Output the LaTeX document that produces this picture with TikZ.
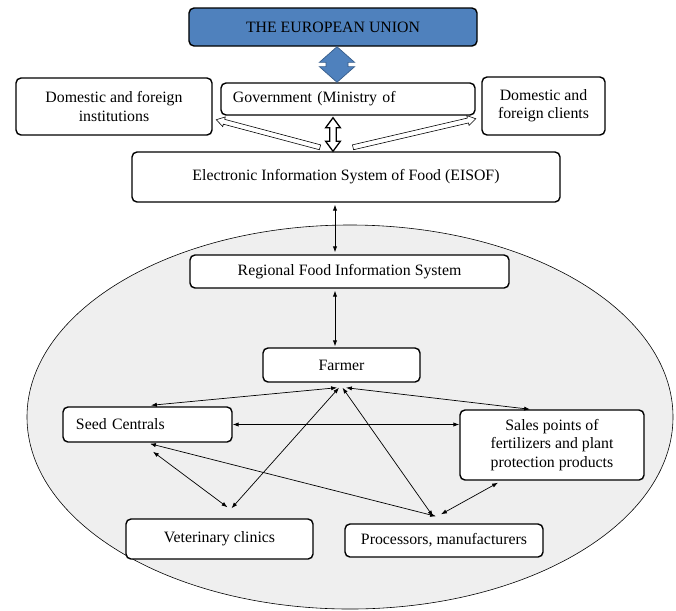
\documentclass[tikz,border=0pt]{standalone}
\usepackage{fontspec}
\setmainfont{Liberation Serif}
\usepackage{xcolor}
\usepackage{tikz}
\usetikzlibrary{positioning}
\usetikzlibrary{arrows.meta,calc}

\definecolor{eublue}{RGB}{79,129,189}
\definecolor{eudark}{RGB}{56,93,138}
\definecolor{zonegray}{RGB}{239,239,239}

\tikzset{
	box/.style={draw, rounded corners=0.15cm, line width=1.2pt, fill=white, align=center, inner sep=1pt, font=\fontsize{13.5}{15.5}\selectfont},
	link/.style={<->, line width=0.6pt},
	hollow/.style={draw, fill=white, line width=0.5pt},
}

% style, from, to, shaft half, head half, head length
\newcommand{\singlearrow}[6]{%
	\coordinate (sa1) at (#2);
	\coordinate (sa2) at (#3);
	\coordinate (sah) at ($(sa2)!#6!(sa1)$);
	\draw[#1] ($(sa1)!#4!90:(sa2)$) -- ($(sah)!#4!90:(sa2)$) -- ($(sah)!#5!90:(sa2)$) -- (sa2)
		-- ($(sah)!#5!-90:(sa2)$) -- ($(sah)!#4!-90:(sa2)$) -- ($(sa1)!#4!-90:(sa2)$) -- cycle;
}
\newcommand{\doublearrow}[6]{%
	\coordinate (da1) at (#2);
	\coordinate (da2) at (#3);
	\coordinate (dh1) at ($(da1)!#6!(da2)$);
	\coordinate (dh2) at ($(da2)!#6!(da1)$);
	\draw[#1] (da1) -- ($(dh1)!#5!-90:(da2)$) -- ($(dh1)!#4!-90:(da2)$) -- ($(dh2)!#4!90:(da1)$)
		-- ($(dh2)!#5!90:(da1)$) -- (da2) -- ($(dh2)!#5!-90:(da1)$) -- ($(dh2)!#4!-90:(da1)$)
		-- ($(dh1)!#4!90:(da2)$) -- ($(dh1)!#5!90:(da2)$) -- cycle;
}

\begin{document}
\begin{tikzpicture}[x=0.03cm, y=-0.03cm, >={Latex[length=5pt,width=3.6pt]}]
			\useasboundingbox (0,0) rectangle (676,610);
			
			\draw[fill=zonegray, line width=0.5pt] (350,417) ellipse [x radius=9.69cm, y radius=5.76cm];
			
			\node[box, fill=eublue, minimum width=8.64cm, minimum height=1.14cm] (eu) at (333,27) {THE EUROPEAN UNION};
			\node[box, minimum width=7.62cm, minimum height=0.96cm, inner xsep=0.36cm, text width=6.9cm, align=left] (gov) at (348,99) {Government (Ministry of};
			\node[box, minimum width=5.88cm, minimum height=1.71cm] (inst) at (114,106.5) {Domestic and foreign\\institutions};
			\node[box, minimum width=3.69cm, minimum height=1.74cm] (clients) at (543.5,106) {Domestic and\\foreign clients};
			\node[box, minimum width=12.84cm, minimum height=1.5cm] (eisof) at (346,177) {Electronic Information System of Food (EISOF)};
			
			\node[box, minimum width=9.57cm, minimum height=0.99cm] (regional) at (349.5,271.5) {Regional Food Information System};
			\node[box, minimum width=4.71cm, minimum height=1.02cm] (farmer) at (341.5,365) {Farmer};
			\node[box, minimum width=5.07cm, minimum height=1.05cm, inner xsep=0.39cm, text width=4.29cm, align=left] (seed) at (147.5,424.5) {Seed Centrals};
			\node[box, minimum width=5.52cm, minimum height=2.1cm] (sales) at (552,445) {Sales points of\\fertilizers and plant\\protection products};
			\node[box, minimum width=5.61cm, minimum height=1.2cm] (vet) at (219.5,539) {Veterinary clinics};
			\node[box, minimum width=5.94cm, minimum height=0.99cm] (proc) at (444,540.5) {Processors, manufacturers};
			
			\coordinate (euaxis) at (337,0);
			\coordinate (govaxis) at (333,0);
			\coordinate (axis) at (335,0);
			
			\doublearrow{draw=eudark, fill=eublue, line width=0.6pt}{eu.south -| euaxis}{gov.north -| euaxis}{0.33cm}{0.53cm}{0.47cm}
			\doublearrow{draw, fill=white, line width=1.1pt}{$(gov.south -| govaxis)+(0,2)$}{eisof.north -| govaxis}{0.1cm}{0.22cm}{0.3cm}
			\singlearrow{hollow}{$(eisof.north)+(-26,-4)$}{$(gov.south west)+(-4,4)$}{0.075cm}{0.15cm}{0.24cm}
			\singlearrow{hollow}{$(eisof.north)+(7,-4)$}{$(gov.south east)+(0,3)$}{0.075cm}{0.15cm}{0.24cm}
			
			\draw[link] ($(eisof.south -| axis)+(0,2)$) -- ($(regional.north -| axis)+(0,-2)$);
			\draw[link] ($(regional.south -| axis)+(0,2)$) -- ($(farmer.north -| axis)+(0,-1)$);
			
			\draw[link] ($(farmer.south)+(-4.5,5)$) -- ($(seed.north)+(3.5,-1)$);
			\draw[link] ($(farmer.south)+(4.5,5)$) -- ($(sales.north)+(-22,0)$);
			\draw[link] (seed.east) -- (seed.east -| sales.west);
			\draw[link] ($(seed.south)+(2.5,1)$) -- ($(proc.north)+(-8,-7)$);
			\draw[link] ($(seed.south)+(5.5,9)$) -- ($(vet.north)+(8,-11)$);
			\draw[link] ($(farmer.south)+(-2.5,5)$) -- ($(vet.north)+(12,-10)$);
			\draw[link] ($(farmer.south)+(1,5)$) -- ($(proc.north)+(-11,-7)$);
			\draw[link] ($(sales.south)+(-54,2)$) -- ($(proc.north)+(-3,-9)$);
\end{tikzpicture}
\end{document}
